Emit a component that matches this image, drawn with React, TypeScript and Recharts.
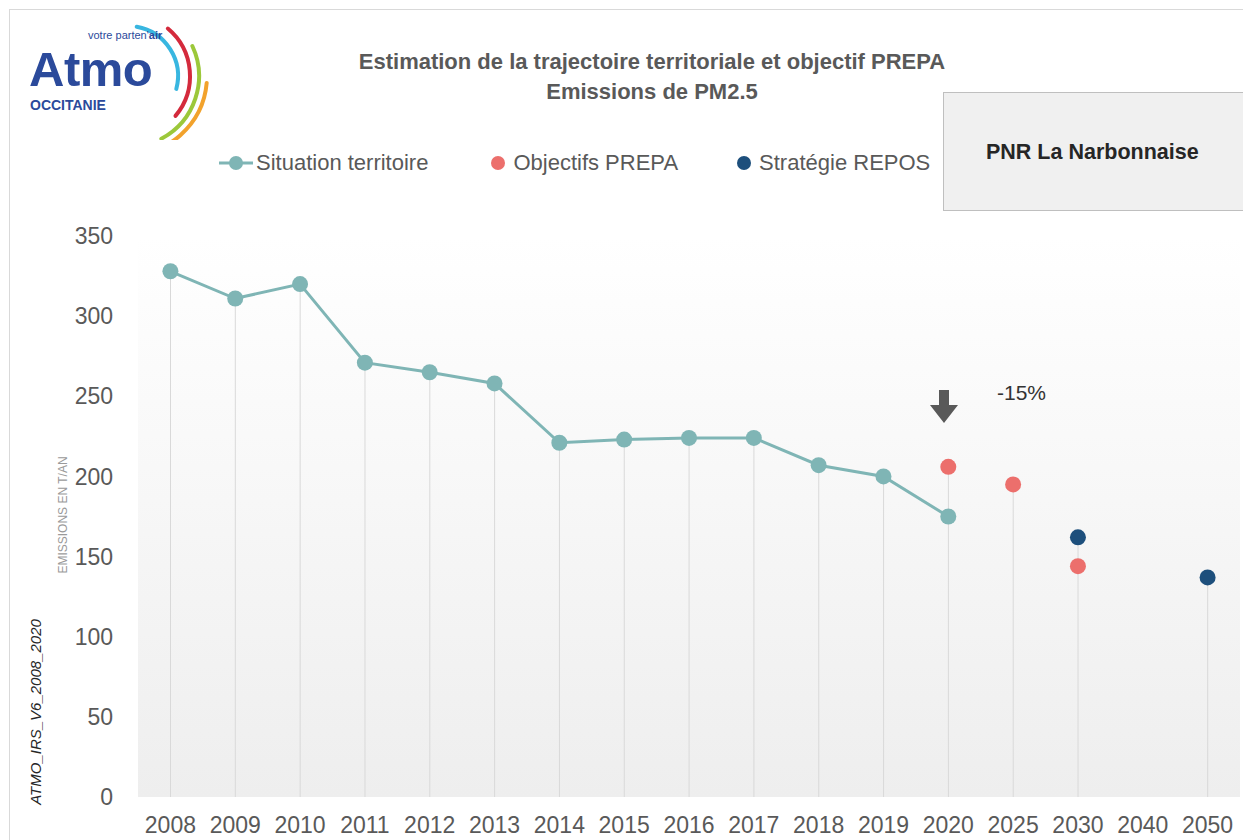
import React from 'react';
import {
  ComposedChart,
  Line,
  Bar,
  XAxis,
  YAxis,
  ReferenceArea,
} from 'recharts';

const years = ['2008', '2009', '2010', '2011', '2012', '2013', '2014', '2015', '2016', '2017', '2018', '2019', '2020', '2025', '2030', '2040', '2050'];
const situation = [328, 311, 320, 271, 265, 258, 221, 223, 224, 224, 207, 200, 175, null, null, null, null];
const prepa = [null, null, null, null, null, null, null, null, null, null, null, null, 206, 195, 144, null, null];
const repos = [null, null, null, null, null, null, null, null, null, null, null, null, null, null, 162, null, 137];
const yTicks = [0, 50, 100, 150, 200, 250, 300, 350];

const TEAL = '#7fb5b5';
const RED = '#ec6f6c';
const NAVY = '#1d4f7c';
const GREY_TXT = '#595959';
const NARROW = '"Liberation Sans Narrow", "Arial Narrow", "Liberation Sans", Arial, sans-serif';
const SANS = '"Liberation Sans", Arial, sans-serif';

const data = years.map((y, i) => {
  const vals = [situation[i], prepa[i], repos[i]].filter((v) => v != null) as number[];
  return {
    year: y,
    situation: situation[i],
    prepa: prepa[i],
    repos: repos[i],
    drop: vals.length ? Math.max(...vals) : null,
  };
});

const legendItems = [
  { label: 'Situation territoire', color: TEAL, line: true },
  { label: 'Objectifs PREPA', color: RED, line: false },
  { label: 'Stratégie REPOS', color: NAVY, line: false },
];

function LegendBox() {
  return (
    <div
      style={{
        position: 'absolute',
        left: 219,
        top: 150,
        display: 'flex',
        alignItems: 'center',
        fontFamily: NARROW,
        fontSize: 22,
        color: GREY_TXT,
      }}
    >
      {legendItems.map((it, i) => (
        <div key={i} style={{ display: 'flex', alignItems: 'center', marginRight: i === 0 ? 60 : 56 }}>
          <svg width={it.line ? 34 : 20} height={20} style={{ marginRight: it.line ? 3 : 5 }}>
            {it.line && <line x1={0} y1={10} x2={34} y2={10} stroke={it.color} strokeWidth={3} />}
            <circle cx={it.line ? 17 : 10} cy={10} r={7} fill={it.color} />
          </svg>
          <span>{it.label}</span>
        </div>
      ))}
    </div>
  );
}

function Logo() {
  const arc = (r: number, a0: number, a1: number) => {
    const cx = 128;
    const cy = 76;
    const rad = (d: number) => (d * Math.PI) / 180;
    const x0 = cx + r * Math.cos(rad(a0));
    const y0 = cy + r * Math.sin(rad(a0));
    const x1 = cx + r * Math.cos(rad(a1));
    const y1 = cy + r * Math.sin(rad(a1));
    return `M${x0},${y0} A${r},${r} 0 0 1 ${x1},${y1}`;
  };
  return (
    <svg width={230} height={140} style={{ position: 'absolute', left: 0, top: 0 }}>
      <path d={arc(50, -80, 15)} stroke="#38b6e0" strokeWidth={4} fill="none" strokeLinecap="round" />
      <path d={arc(62, -50, 40)} stroke="#d42a3c" strokeWidth={4} fill="none" strokeLinecap="round" />
      <path d={arc(71, -25, 62)} stroke="#9cc83a" strokeWidth={4} fill="none" strokeLinecap="round" />
      <path d={arc(79, 5, 92)} stroke="#f2a22c" strokeWidth={4} fill="none" strokeLinecap="round" />
      <text x={88} y={39} fontFamily={SANS} fontSize={11} fill="#2b4a9b">
        votre parten'<tspan fontWeight="bold">air</tspan>
      </text>
      <text x={29} y={86} fontFamily={SANS} fontSize={49} fontWeight="bold" fill="#2b4a9b" letterSpacing={-0.5}>
        Atmo
      </text>
      <text x={30} y={110} fontFamily={SANS} fontSize={14} fontWeight="bold" fill="#2b4a9b">
        OCCITANIE
      </text>
    </svg>
  );
}

export default function App() {
  return (
    <div style={{ position: 'absolute', left: 0, top: 0, width: 1243, height: 840, background: '#fff', overflow: 'hidden' }}>
      <div style={{ position: 'absolute', left: 9, top: 9, width: 1300, height: 900, border: '1px solid #d9d9d9' }} />
      <ComposedChart
        width={1243}
        height={840}
        data={data}
        margin={{ top: 236, right: 3, bottom: 0, left: 0 }}
      >
        <defs>
          <linearGradient id="bgGrad" x1="0" y1="0" x2="0" y2="1">
            <stop offset="0%" stopColor="#ffffff" />
            <stop offset="100%" stopColor="#eeeeee" />
          </linearGradient>
        </defs>
        <XAxis
          dataKey="year"
          height={43}
          axisLine={false}
          tickLine={false}
          tickMargin={14}
          interval={0}
          tick={{ fontFamily: NARROW, fontSize: 23, fill: GREY_TXT }}
        />
        <YAxis
          width={138}
          domain={[0, 350]}
          ticks={yTicks}
          axisLine={false}
          tickLine={false}
          tickMargin={19}
          tick={{ fontFamily: NARROW, fontSize: 23, fill: GREY_TXT }}
        />
        <ReferenceArea y1={0} y2={350} fill="url(#bgGrad)" fillOpacity={1} stroke="none" />
        <Bar dataKey="drop" barSize={1} fill="#d9d9d9" isAnimationActive={false} />
        <Line
          dataKey="situation"
          stroke={TEAL}
          strokeWidth={3}
          dot={{ r: 8, fill: TEAL, stroke: TEAL, strokeWidth: 0 }}
          activeDot={false}
          isAnimationActive={false}
        />
        <Line
          dataKey="prepa"
          stroke="none"
          dot={{ r: 8, fill: RED, stroke: RED, strokeWidth: 0 }}
          activeDot={false}
          isAnimationActive={false}
        />
        <Line
          dataKey="repos"
          stroke="none"
          dot={{ r: 8, fill: NAVY, stroke: NAVY, strokeWidth: 0 }}
          activeDot={false}
          isAnimationActive={false}
        />
      </ComposedChart>

      <Logo />
      <LegendBox />

      <div
        style={{
          position: 'absolute',
          left: 302,
          top: 47,
          width: 700,
          textAlign: 'center',
          fontFamily: SANS,
          fontWeight: 'bold',
          fontSize: 22,
          lineHeight: '30px',
          color: GREY_TXT,
        }}
      >
        Estimation de la trajectoire territoriale et objectif PREPA
        <br />
        Emissions de PM2.5
      </div>

      <div
        style={{
          position: 'absolute',
          left: 943,
          top: 92,
          width: 320,
          height: 119,
          background: '#f0f0f0',
          border: '1px solid #bfbfbf',
          boxSizing: 'border-box',
        }}
      >
        <div style={{ position: 'absolute', left: 42, top: 47, fontFamily: SANS, fontWeight: 'bold', fontSize: 21.5, color: '#262626' }}>
          PNR La Narbonnaise
        </div>
      </div>

      <svg width={40} height={40} style={{ position: 'absolute', left: 926, top: 388 }}>
        <path d="M13,2 L23,2 L23,17 L32,17 L18,35 L4,17 L13,17 Z" fill="#595959" />
      </svg>
      <div style={{ position: 'absolute', left: 997, top: 381, fontFamily: NARROW, fontSize: 21, color: '#333' }}>-15%</div>

      <div
        style={{
          position: 'absolute',
          left: 63,
          top: 515,
          transform: 'translate(-50%, -50%) rotate(-90deg)',
          whiteSpace: 'nowrap',
          fontFamily: NARROW,
          fontSize: 12,
          color: '#9a9a9a',
        }}
      >
        EMISSIONS EN T/AN
      </div>
      <div
        style={{
          position: 'absolute',
          left: 35,
          top: 712,
          transform: 'translate(-50%, -50%) rotate(-90deg)',
          whiteSpace: 'nowrap',
          fontFamily: NARROW,
          fontStyle: 'italic',
          fontSize: 15,
          color: '#262626',
        }}
      >
        ATMO_IRS_V6_2008_2020
      </div>
    </div>
  );
}
